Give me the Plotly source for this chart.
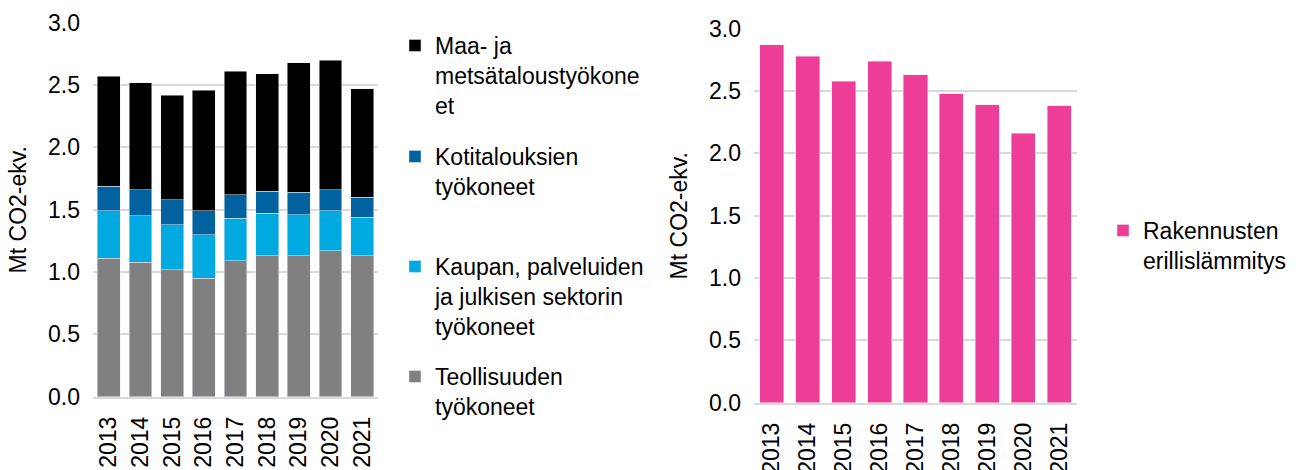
import plotly.graph_objects as go

years = ["2013", "2014", "2015", "2016", "2017", "2018", "2019", "2020", "2021"]

# Left chart (stacked) series, Mt CO2-ekv.
teollisuus = [1.11, 1.08, 1.02, 0.95, 1.09, 1.13, 1.13, 1.17, 1.13]
kaupan = [0.38, 0.37, 0.36, 0.35, 0.34, 0.34, 0.33, 0.32, 0.31]
kotitaloudet = [0.20, 0.21, 0.20, 0.19, 0.19, 0.18, 0.18, 0.17, 0.16]
maa_metsa = [0.88, 0.86, 0.84, 0.97, 0.99, 0.94, 1.04, 1.04, 0.87]

# Right chart series
rakennukset = [2.87, 2.78, 2.58, 2.74, 2.63, 2.48, 2.39, 2.16, 2.38]

names = {
    "maa": "Maa- ja<br>metsätaloustyökone<br>et",
    "koti": "Kotitalouksien<br>työkoneet",
    "kaupan": "Kaupan, palveluiden<br>ja julkisen sektorin<br>työkoneet",
    "teol": "Teollisuuden<br>työkoneet",
    "rak": "Rakennusten<br>erillislämmitys",
}

colors = {
    "maa": "#000000",
    "koti": "#00629E",
    "kaupan": "#00A9E0",
    "teol": "#808080",
    "rak": "#EE3D96",
}

W, H = 1296, 470
FONT = "Liberation Sans, Arial, sans-serif"

fig = go.Figure()

fig.add_trace(go.Bar(x=years, y=teollisuus, name=names["teol"], marker_color=colors["teol"],
                     xaxis="x", yaxis="y", legend="legend4"))
fig.add_trace(go.Bar(x=years, y=kaupan, name=names["kaupan"], marker_color=colors["kaupan"],
                     xaxis="x", yaxis="y", legend="legend3"))
fig.add_trace(go.Bar(x=years, y=kotitaloudet, name=names["koti"], marker_color=colors["koti"],
                     xaxis="x", yaxis="y", legend="legend2"))
fig.add_trace(go.Bar(x=years, y=maa_metsa, name=names["maa"], marker_color=colors["maa"],
                     xaxis="x", yaxis="y", legend="legend"))
fig.add_trace(go.Bar(x=years, y=rakennukset, name=names["rak"], marker_color=colors["rak"],
                     xaxis="x2", yaxis="y2", legend="legend5", width=0.67))

def px_x(p):
    return p / W

def px_y(p):
    return 1 - p / H

grid = "#D9D9D9"
tickfont = dict(family=FONT, size=23, color="#000000")

def legend_at(xp, yp):
    return dict(x=px_x(xp), y=px_y(yp), xanchor="left", yanchor="top",
                bgcolor="rgba(0,0,0,0)", valign="top",
                font=dict(family=FONT, size=23, color="#000000"))

yax = dict(range=[0, 3], dtick=0.5, tickformat=".1f", showgrid=True, gridcolor=grid,
           gridwidth=1.5, zeroline=False, showline=False, tickfont=tickfont,
           ticks="", ticklabelstandoff=12,
           title=dict(text="Mt CO2-ekv.", font=dict(family=FONT, size=23, color="#000000"), standoff=14))
xax = dict(type="category", tickangle=-90, tickfont=tickfont, showline=True, linecolor=grid,
           linewidth=1.5, ticks="", showgrid=False, ticklabelstandoff=9)

fig.update_layout(
    width=W, height=H,
    margin=dict(l=0, r=0, t=0, b=0, autoexpand=False),
    paper_bgcolor="#FFFFFF", plot_bgcolor="#FFFFFF",
    barmode="stack", bargap=0.28,
    font=dict(family=FONT, color="#000000"),
    xaxis=dict(xax, domain=[px_x(93), px_x(378)], anchor="y"),
    yaxis=dict(yax, domain=[px_y(396.7), px_y(22.7)], anchor="x"),
    xaxis2=dict(xax, domain=[px_x(754), px_x(1077)], anchor="y2"),
    yaxis2=dict(yax, domain=[px_y(402.7), px_y(28.7)], anchor="x2"),
    legend=legend_at(395, 24),
    legend2=legend_at(395, 135),
    legend3=legend_at(395, 245),
    legend4=legend_at(395, 355),
    legend5=legend_at(1103, 209),
    showlegend=True,
)

fig.write_html("out.html", config={"displayModeBar": False},
               post_script="document.body.style.margin='0';document.body.style.overflow='hidden';")
